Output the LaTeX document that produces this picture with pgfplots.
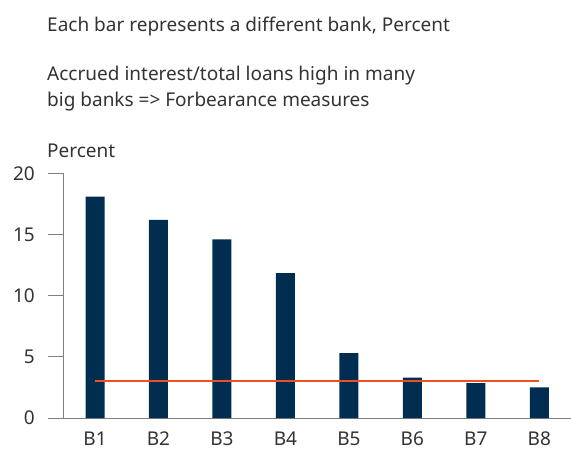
\documentclass[border=0pt]{standalone}
\usepackage{pgfplots}
\pgfplotsset{compat=1.18}
\usepackage{fontspec}
\setmainfont{Noto Sans}
\definecolor{navy}{HTML}{002D50}
\definecolor{redline}{HTML}{F04E23}
\definecolor{txt}{HTML}{333333}
\definecolor{axisgray}{HTML}{808080}
\begin{document}
\begin{tikzpicture}[font=\fontsize{19bp}{22bp}\selectfont, text=txt]
\begin{axis}[
at={(0,0)}, anchor=south west,
scale only axis,
width=507.7bp, height=244.7bp,
xmin=-0.5, xmax=7.5,
ymin=0, ymax=20,
axis x line=bottom, axis y line=left,
axis line style={-, axisgray, line width=0.8bp},
xtick=data,
xticklabels={B1,B2,B3,B4,B5,B6,B7,B8},
ytick={0,5,10,15,20},
tick align=outside,
y tick style={axisgray, line width=0.8bp},
x tick style={draw=none},
major tick length=15bp,
yticklabel style={xshift=-10bp, text=txt},
xticklabel style={yshift=2bp, inner sep=1bp, text=txt},
/pgf/number format/assume math mode=true,
]
\addplot[ybar, bar width=19bp, fill=navy, draw=none] coordinates {
(0,18.1) (1,16.2) (2,14.6) (3,11.84) (4,5.3) (5,3.3) (6,2.85) (7,2.5)
};
\addplot[redline, line width=2.2bp, mark=none] coordinates {
(0,3.03) (7,3.03)
};
\end{axis}
\node[anchor=base west, inner sep=0] at (-16.3bp,386.3bp) {Each bar represents a different bank, Percent};
\node[anchor=base west, inner sep=0] at (-16.3bp,337.3bp) {Accrued interest/total loans high in many};
\node[anchor=base west, inner sep=0] at (-16.3bp,311.3bp) {big banks => Forbearance measures};
\node[anchor=base west, inner sep=0] at (-16.3bp,260bp) {Percent};
\pgfresetboundingbox
\useasboundingbox (-63.3bp,-34bp) rectangle (507.7bp,418bp);
\end{tikzpicture}
\end{document}
